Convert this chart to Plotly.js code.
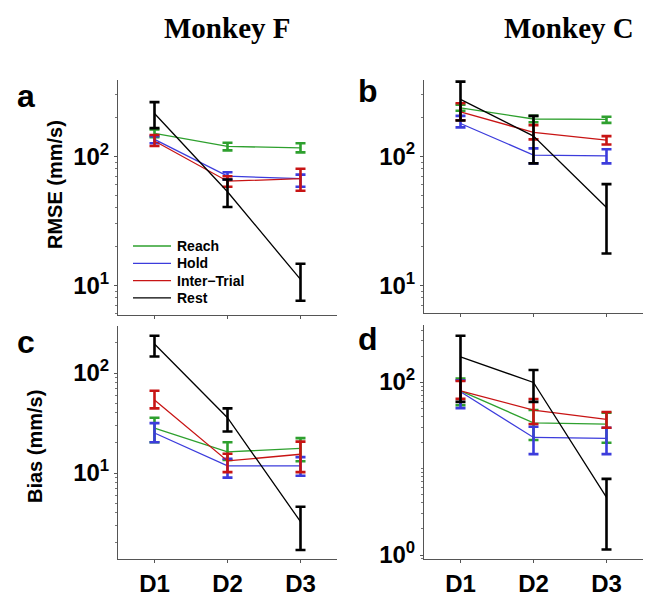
<!DOCTYPE html>
<html>
<head>
<meta charset="utf-8">
<script src="https://cdn.plot.ly/plotly-3.0.1.min.js"></script>
<style>html,body{margin:0;padding:0;background:#fff;}#chart{width:652px;height:592px;}</style>
</head>
<body>
<div id="chart"></div>
<script>
// ---- data ----
const days = ["D1", "D2", "D3"];
const seriesNames = ["Reach", "Hold", "Inter\u2212Trial", "Rest"];

// Panel a: Monkey F RMSE (mm/s)
const aReach = [150, 119, 116];
const aReachHi = [161, 127, 126];
const aReachLo = [140, 111, 107];
const aHold = [135, 70, 67];
const aHoldHi = [143, 75, 72];
const aHoldLo = [126, 66, 58];
const aInter = [131, 64, 67];
const aInterHi = [146, 70, 80];
const aInterLo = [120, 58, 54];
const aRest = [214, 53, 11.1];
const aRestHi = [262, 66, 14.7];
const aRestLo = [165, 40.4, 7.6];

// Panel b: Monkey C RMSE (mm/s)
const bReach = [237, 194, 193];
const bReachHi = [250, 205, 202];
const bReachLo = [225, 183, 181];
const bHold = [179, 102, 100.5];
const bHoldHi = [205, 115, 113];
const bHoldLo = [167, 88, 88];
const bInter = [220, 153, 133];
const bInterHi = [257, 174, 143];
const bInterLo = [190, 135, 123];
const bRest = [275, 143, 40];
const bRestHi = [378, 205, 60.7];
const bRestLo = [189, 88, 17.6];

// Panel c: Monkey F Bias (mm/s)
const cReach = [28.1, 16.3, 17.6];
const cReachHi = [35.7, 20.3, 22.3];
const cReachLo = [20.3, 13.5, 13.1];
const cHold = [25.1, 11.8, 11.8];
const cHoldHi = [31.5, 13.9, 14.4];
const cHoldLo = [20.3, 9.0, 9.4];
const cInter = [53.7, 13.2, 15.4];
const cInterHi = [66.5, 15.6, 20.6];
const cInterLo = [44.3, 10.2, 10.2];
const cRest = [195, 35.7, 3.26];
const cRestHi = [236, 44.3, 4.6];
const cRestLo = [146, 26.0, 1.7];

// Panel d: Monkey C Bias (mm/s)
const dReach = [79, 33.8, 32.7];
const dReachHi = [110, 47.5, 44.2];
const dReachLo = [54, 21.4, 19.9];
const dHold = [77.2, 22.9, 22.3];
const dHoldHi = [105, 30.4, 29.6];
const dHoldLo = [50, 14.7, 14.7];
const dInter = [79.3, 47.5, 37.1];
const dInterHi = [102.7, 63.6, 45];
const dInterLo = [64, 32.7, 29.6];
const dRest = [196, 99, 4.65];
const dRestHi = [343, 138, 7.6];
const dRestLo = [59, 59, 1.16];

const colors = ["#2ea02e", "#3c3cdc", "#c81414", "#000000"];

// ---- helpers ----
const W = 652, H = 592;
const px = v => v / W;
const py = v => 1 - v / H;

function mk(vals, hi, lo, idx, axn) {
  return {
    type: "scatter", mode: "lines",
    x: days, y: vals,
    name: seriesNames[idx],
    showlegend: false,
    xaxis: "x" + (axn === 1 ? "" : axn), yaxis: "y" + (axn === 1 ? "" : axn),
    line: { color: colors[idx], width: 1.3 },
    error_y: {
      type: "data", symmetric: false,
      array: hi.map((h, i) => h - vals[i]),
      arrayminus: lo.map((l, i) => vals[i] - l),
      color: colors[idx], thickness: 2.6, width: 5
    },
    hoverinfo: "skip"
  };
}

const panels = [
  [[aReach, aReachHi, aReachLo], [aHold, aHoldHi, aHoldLo], [aInter, aInterHi, aInterLo], [aRest, aRestHi, aRestLo]],
  [[bReach, bReachHi, bReachLo], [bHold, bHoldHi, bHoldLo], [bInter, bInterHi, bInterLo], [bRest, bRestHi, bRestLo]],
  [[cReach, cReachHi, cReachLo], [cHold, cHoldHi, cHoldLo], [cInter, cInterHi, cInterLo], [cRest, cRestHi, cRestLo]],
  [[dReach, dReachHi, dReachLo], [dHold, dHoldHi, dHoldLo], [dInter, dInterHi, dInterLo], [dRest, dRestHi, dRestLo]]
];

const traces = [];
panels.forEach((p, pi) => {
  p.forEach((s, si) => traces.push(mk(s[0], s[1], s[2], si, pi + 1)));
});

const sans = "Liberation Sans, Arial, Helvetica, sans-serif";
const serif = "Liberation Serif, Times New Roman, serif";

function minorVals(lo, hi) {
  const out = [];
  for (let d = lo; d <= hi; d++) {
    for (let m = 2; m <= 9; m++) out.push(m * Math.pow(10, d));
  }
  return out;
}

function xax(dom, showLabels, anchor) {
  return {
    domain: dom, anchor: anchor, type: "category",
    range: [-0.5, 2.5],
    showgrid: false, zeroline: false,
    showline: true, linecolor: "#555", linewidth: 1,
    ticks: "outside", ticklen: 3, tickcolor: "#555",
    showticklabels: showLabels,
    tickfont: { family: sans, size: 24, color: "#000", weight: "bold" }
  };
}
function yax(dom, range, tv, tt, anchor) {
  return {
    domain: dom, anchor: anchor, type: "log",
    range: range,
    showgrid: false, zeroline: false,
    showline: true, linecolor: "#555", linewidth: 1,
    ticks: "outside", ticklen: 3, tickcolor: "#555",
    tickmode: "array", tickvals: tv, ticktext: tt,
    tickfont: { family: sans, size: 24, color: "#000", weight: "bold" },
    minor: { tickmode: "array", tickvals: minorVals(-1, 3).concat([10]), ticks: "outside", ticklen: 2, tickcolor: "#777" }
  };
}

const xa = [px(118), px(337)], xb = [px(424), px(643)];
const ya = [py(315), py(80)], yb = [py(313), py(80)];
const yc = [py(559), py(326)], yd = [py(559), py(325)];

// manual legend (panel a), built from the series names and colours
const legRows = [246, 263.3, 280.6, 297.9];
const shapes = [];
const legAnn = [];
seriesNames.forEach((n, i) => {
  shapes.push({ type: "line", xref: "paper", yref: "paper",
    x0: px(133), x1: px(171), y0: py(legRows[i]), y1: py(legRows[i]),
    line: { color: colors[i], width: 1.3 } });
  legAnn.push({ text: n, x: px(175), y: py(legRows[i]), xref: "paper", yref: "paper",
    xanchor: "left", yanchor: "middle", showarrow: false,
    font: { family: sans, size: 14, color: "#000", weight: "bold" } });
});

function ann(text, x, y, size, family, extra) {
  return Object.assign({ text: text, x: px(x), y: py(y), xref: "paper", yref: "paper",
    xanchor: "center", yanchor: "middle", showarrow: false,
    font: { family: family, size: size, color: "#000", weight: "bold" } }, extra || {});
}

const layout = {
  width: W, height: H,
  margin: { l: 0, r: 0, t: 0, b: 0 },
  paper_bgcolor: "#fff", plot_bgcolor: "rgba(0,0,0,0)",
  showlegend: false,
  xaxis: xax(xa, false, "y"),
  yaxis: yax(ya, [0.77, 2.59], [10, 100], ["10<sup>1</sup>", "10<sup>2</sup>"], "x"),
  xaxis2: xax(xb, false, "y2"),
  yaxis2: yax(yb, [0.785, 2.59], [10, 100], ["10<sup>1</sup>", "10<sup>2</sup>"], "x2"),
  xaxis3: xax(xa, true, "y3"),
  yaxis3: yax(yc, [0.14, 2.47], [10, 100], ["10<sup>1</sup>", "10<sup>2</sup>"], "x3"),
  xaxis4: xax(xb, true, "y4"),
  yaxis4: yax(yd, [-0.046, 2.66], [1, 100], ["10<sup>0</sup>", "10<sup>2</sup>"], "x4"),
  shapes: shapes,
  annotations: [
    ann("Monkey F", 227, 28, 29, serif),
    ann("Monkey C", 569, 28, 29, serif),
    ann("a", 26, 96, 32, sans),
    ann("b", 368, 91, 32, sans),
    ann("c", 26, 342, 32, sans),
    ann("d", 368, 339, 32, sans),
    ann("RMSE (mm/s)", 55, 185, 20, sans, { textangle: -90 }),
    ann("Bias (mm/s)", 35, 447, 20, sans, { textangle: -90 })
  ].concat(legAnn)
};

Plotly.newPlot("chart", traces, layout, { displayModeBar: false, staticPlot: true });
</script>
</body>
</html>
